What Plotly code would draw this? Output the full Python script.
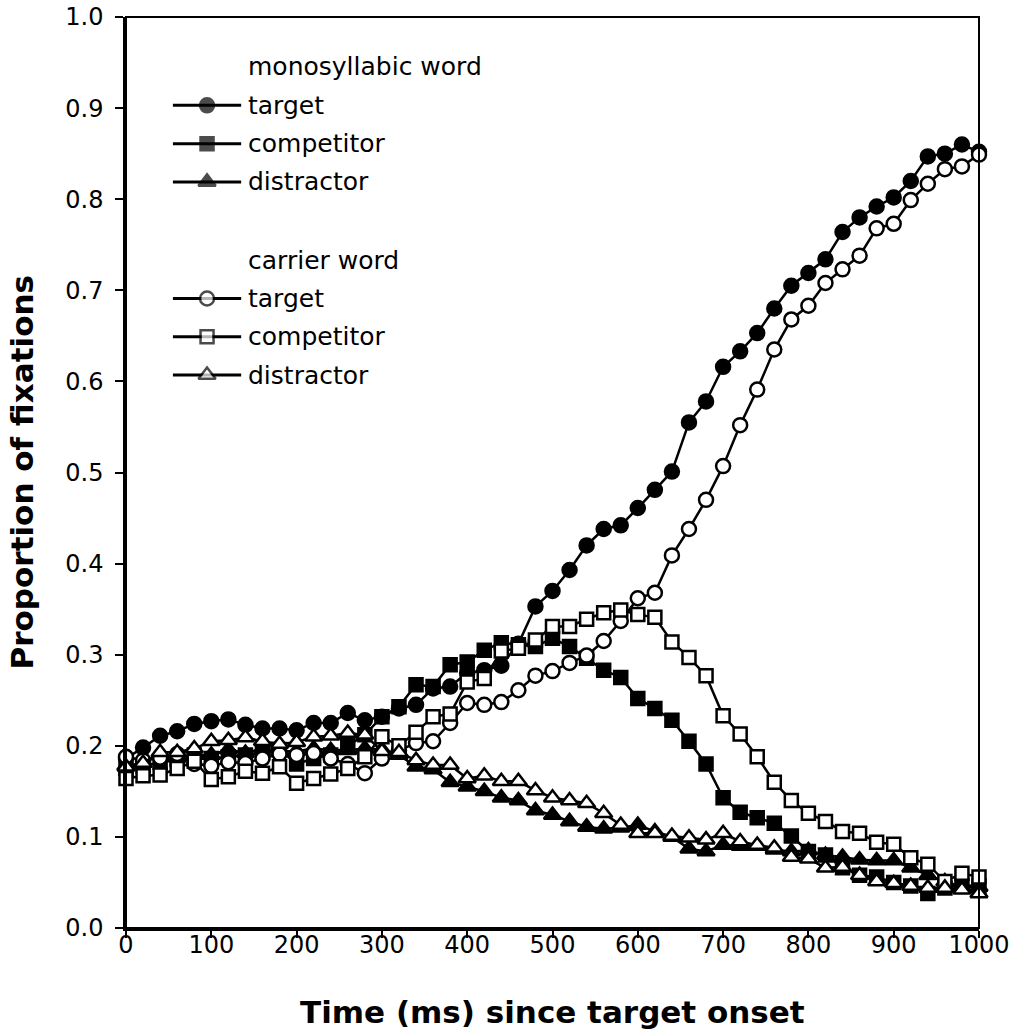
import plotly.graph_objects as go

# ---------------- data ----------------
time_ms = list(range(0, 1001, 20))

mono_target = [0.186, 0.198, 0.211, 0.216, 0.224, 0.227, 0.229, 0.223, 0.219, 0.219,
               0.217, 0.225, 0.225, 0.236, 0.228, 0.232, 0.241, 0.245, 0.263, 0.265,
               0.280, 0.283, 0.288, 0.312, 0.353, 0.370, 0.393, 0.420, 0.438, 0.442,
               0.461, 0.481, 0.501, 0.555, 0.578, 0.616, 0.633, 0.653, 0.680, 0.705,
               0.719, 0.734, 0.764, 0.780, 0.792, 0.802, 0.820, 0.847, 0.850, 0.860,
               0.852]
mono_competitor = [0.175, 0.178, 0.182, 0.185, 0.190, 0.186, 0.188, 0.190, 0.192, 0.196,
                   0.180, 0.186, 0.190, 0.200, 0.212, 0.232, 0.243, 0.267, 0.265, 0.289,
                   0.292, 0.305, 0.313, 0.311, 0.309, 0.318, 0.309, 0.296, 0.283, 0.275,
                   0.252, 0.241, 0.228, 0.205, 0.180, 0.143, 0.127, 0.121, 0.115, 0.101,
                   0.084, 0.080, 0.066, 0.058, 0.056, 0.050, 0.046, 0.038, 0.044, 0.047,
                   0.046]
mono_distractor = [0.178, 0.181, 0.190, 0.187, 0.190, 0.190, 0.196, 0.192, 0.197, 0.194,
                   0.194, 0.197, 0.195, 0.195, 0.197, 0.196, 0.190, 0.177, 0.174, 0.160,
                   0.155, 0.150, 0.143, 0.140, 0.129, 0.124, 0.117, 0.111, 0.109, 0.110,
                   0.113, 0.106, 0.100, 0.087, 0.084, 0.091, 0.090, 0.090, 0.086, 0.084,
                   0.085, 0.080, 0.078, 0.075, 0.074, 0.074, 0.066, 0.058, 0.051, 0.045,
                   0.045]
carrier_target = [0.188, 0.184, 0.187, 0.191, 0.180, 0.178, 0.182, 0.181, 0.186, 0.191,
                  0.190, 0.192, 0.186, 0.180, 0.170, 0.186, 0.195, 0.203, 0.205, 0.225,
                  0.247, 0.245, 0.248, 0.261, 0.277, 0.282, 0.291, 0.299, 0.315, 0.337,
                  0.362, 0.368, 0.409, 0.438, 0.470, 0.507, 0.552, 0.591, 0.635, 0.668,
                  0.683, 0.708, 0.723, 0.738, 0.768, 0.773, 0.799, 0.817, 0.833, 0.836,
                  0.849]
carrier_competitor = [0.164, 0.167, 0.168, 0.175, 0.183, 0.163, 0.166, 0.172, 0.170, 0.177,
                      0.159, 0.164, 0.169, 0.175, 0.188, 0.210, 0.200, 0.215, 0.232, 0.235,
                      0.270, 0.274, 0.304, 0.307, 0.316, 0.331, 0.331, 0.339, 0.346, 0.349,
                      0.344, 0.341, 0.314, 0.297, 0.277, 0.233, 0.213, 0.188, 0.160, 0.140,
                      0.126, 0.117, 0.106, 0.104, 0.094, 0.092, 0.077, 0.070, 0.051, 0.060,
                      0.056]
carrier_distractor = [0.177, 0.181, 0.193, 0.193, 0.197, 0.205, 0.206, 0.209, 0.205, 0.202,
                      0.204, 0.210, 0.211, 0.214, 0.212, 0.194, 0.193, 0.184, 0.179, 0.179,
                      0.164, 0.167, 0.161, 0.161, 0.151, 0.143, 0.140, 0.137, 0.126, 0.113,
                      0.104, 0.104, 0.101, 0.099, 0.097, 0.104, 0.095, 0.091, 0.088, 0.078,
                      0.076, 0.066, 0.067, 0.058, 0.051, 0.049, 0.046, 0.044, 0.044, 0.042,
                      0.038]

x_ticks = [0, 100, 200, 300, 400, 500, 600, 700, 800, 900, 1000]
y_ticks = [0.0, 0.1, 0.2, 0.3, 0.4, 0.5, 0.6, 0.7, 0.8, 0.9, 1.0]

group_titles = ["monosyllabic word", "carrier word"]
item_names = ["target", "competitor", "distractor"]

# ---------------- styling ----------------
FONT = "DejaVu Sans"
BLACK = "black"
TICK_SIZE = 24
LEG_SIZE = 25
TITLE_SIZE = 31
series = [
    (mono_target, "circle", BLACK, 14),
    (mono_competitor, "square", BLACK, 13),
    (mono_distractor, "triangle-up", BLACK, 15),
    (carrier_target, "circle", "white", 14),
    (carrier_competitor, "square", "white", 13),
    (carrier_distractor, "triangle-up", "white", 15),
]

fig = go.Figure()
for vals, sym, fill, size in series:
    assert len(vals) == len(time_ms)
    fig.add_trace(go.Scatter(
        x=time_ms, y=vals, mode="lines+markers",
        line=dict(color=BLACK, width=2.5),
        marker=dict(symbol=sym, size=size, color=fill,
                    line=dict(color=BLACK, width=2.5)),
        cliponaxis=False, showlegend=False, hoverinfo="skip"))

# ---------------- custom legend (in axis units) ----------------
LEG_X0, LEG_XM, LEG_X1, LEG_TX = 55, 95, 135, 141
LEG_HEAD = [0.946, 0.733]
LEG_ROWS = [[0.903, 0.861, 0.819], [0.691, 0.649, 0.607]]
for g in range(2):
    fig.add_annotation(x=LEG_TX, y=LEG_HEAD[g], xref="x", yref="y", text=group_titles[g],
                       showarrow=False, xanchor="left", yanchor="middle",
                       font=dict(family=FONT, size=LEG_SIZE, color=BLACK))
    for i in range(3):
        vals, sym, fill, size = series[g * 3 + i]
        yy = LEG_ROWS[g][i]
        fig.add_trace(go.Scatter(
            x=[LEG_X0, LEG_XM, LEG_X1], y=[yy, yy, yy], mode="lines+markers",
            line=dict(color=BLACK, width=3),
            marker=dict(symbol=sym, size=[0, size, 0], color=fill,
                        line=dict(color=BLACK, width=[0, 2.5, 0])),
            cliponaxis=False, showlegend=False, hoverinfo="skip"))
        fig.add_annotation(x=LEG_TX, y=yy, xref="x", yref="y", text=item_names[i],
                           showarrow=False, xanchor="left", yanchor="middle",
                           font=dict(family=FONT, size=LEG_SIZE, color=BLACK))

# ---------------- axes ----------------
fig.update_xaxes(range=[0, 1000], tickvals=x_ticks, ticks="outside", ticklen=7,
                 tickwidth=2, tickcolor=BLACK, showline=True, linewidth=3, linecolor=BLACK,
                 showgrid=False, zeroline=False, automargin=False,
                 ticklabelstandoff=-14,
                 tickfont=dict(family=FONT, size=TICK_SIZE, color=BLACK))
fig.update_yaxes(range=[0, 1.0], tickvals=y_ticks, tickformat=".1f", ticks="outside",
                 ticklen=8, tickwidth=2, tickcolor=BLACK, showline=True, linewidth=2.5,
                 linecolor=BLACK, showgrid=False, zeroline=False, automargin=False,
                 ticklabelstandoff=7,
                 tickfont=dict(family=FONT, size=TICK_SIZE, color=BLACK))

fig.add_shape(type="rect", xref="x domain", yref="y domain", x0=0, x1=1, y0=0, y1=1,
              line=dict(color=BLACK, width=2), layer="above")

fig.add_annotation(text="<b>Time (ms) since target onset</b>", xref="paper", yref="paper",
                   x=0.5, y=-0.092, showarrow=False, xanchor="center", yanchor="middle",
                   font=dict(family=FONT, size=TITLE_SIZE, color=BLACK))
fig.add_annotation(text="<b>Proportion of fixations</b>", xref="paper", yref="paper",
                   x=-0.122, y=0.5, textangle=-90, showarrow=False, xanchor="center",
                   yanchor="middle", font=dict(family=FONT, size=TITLE_SIZE, color=BLACK))

fig.update_layout(width=1011, height=1034, paper_bgcolor="white", plot_bgcolor="white",
                  margin=dict(l=126, r=32, t=17, b=106, autoexpand=False), showlegend=False)

fig.write_html("out.html", config={"displayModeBar": False},
               post_script="document.body.style.margin='0';")
